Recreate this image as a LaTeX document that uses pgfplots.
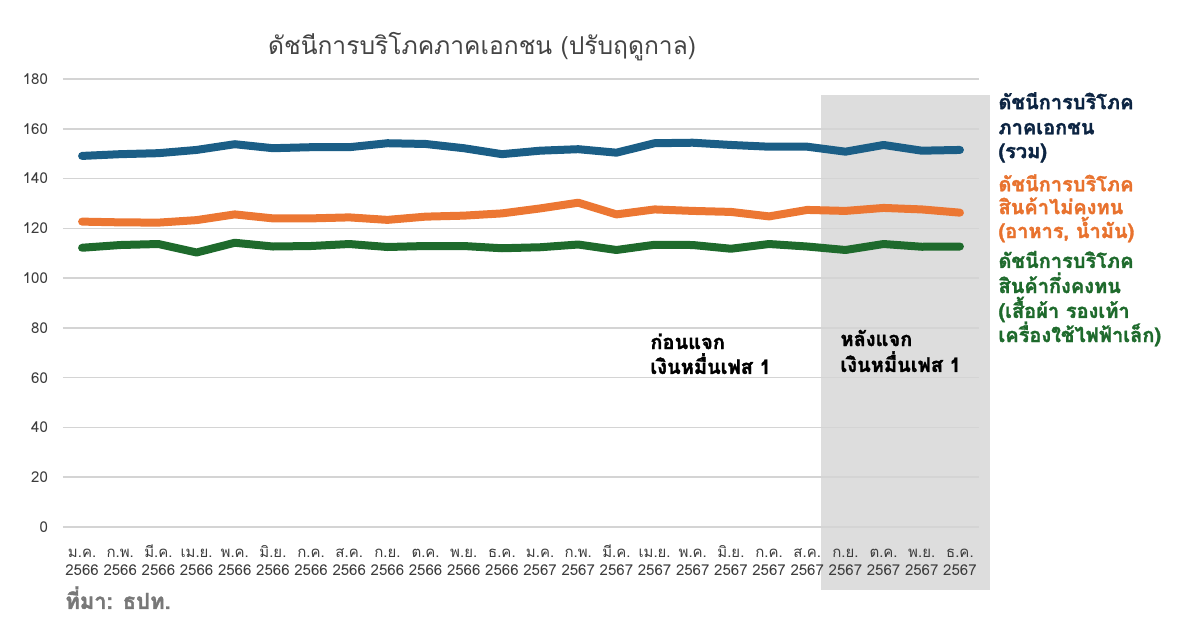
\documentclass[border=0pt]{standalone}
\usepackage{fontspec}
\setmainfont[Script=Thai, BoldFeatures={FakeBold=1.6}]{Loma}
\usepackage{pgfplots}
\pgfplotsset{compat=1.18}
\definecolor{blueline}{RGB}{27,94,134}
\definecolor{orangeline}{RGB}{236,119,51}
\definecolor{greenline}{RGB}{30,106,44}
\definecolor{navytext}{RGB}{12,36,66}
\definecolor{orangetext}{RGB}{232,114,46}
\definecolor{greentext}{RGB}{30,106,44}
\definecolor{gridgray}{RGB}{212,212,212}
\definecolor{shadegray}{RGB}{221,221,221}
\definecolor{ticktext}{RGB}{60,60,60}
\definecolor{titletext}{RGB}{68,68,68}
\definecolor{srctext}{RGB}{120,120,120}
\newcommand\tl[2]{\rule{0pt}{9pt}#1\\#2}
\begin{document}
\begin{tikzpicture}
\begin{axis}[
  at={(0,0)}, anchor=south west,
  scale only axis, width=458pt, height=224pt,
  xmin=-0.5, xmax=23.5, ymin=0, ymax=180,
  clip=false, set layers,
  axis line style={draw=none},
  major tick length=0pt,
  ytick={0,20,...,180},
  ymajorgrids, grid style={draw=gridgray, line width=0.8pt},
  xtick={0,...,23},
  xticklabels={{\tl{ม.ค.}{2566}},{\tl{ก.พ.}{2566}},{\tl{มี.ค.}{2566}},{\tl{เม.ย.}{2566}},{\tl{พ.ค.}{2566}},{\tl{มิ.ย.}{2566}},{\tl{ก.ค.}{2566}},{\tl{ส.ค.}{2566}},{\tl{ก.ย.}{2566}},{\tl{ต.ค.}{2566}},{\tl{พ.ย.}{2566}},{\tl{ธ.ค.}{2566}},{\tl{ม.ค.}{2567}},{\tl{ก.พ.}{2567}},{\tl{มี.ค.}{2567}},{\tl{เม.ย.}{2567}},{\tl{พ.ค.}{2567}},{\tl{มิ.ย.}{2567}},{\tl{ก.ค.}{2567}},{\tl{ส.ค.}{2567}},{\tl{ก.ย.}{2567}},{\tl{ต.ค.}{2567}},{\tl{พ.ย.}{2567}},{\tl{ธ.ค.}{2567}}},
  xticklabel style={align=center, font=\fontsize{7.5}{9.3}\selectfont, text=ticktext, anchor=north, yshift=-2.6pt},
  yticklabel style={font=\fontsize{7.5}{9}\selectfont, text=ticktext, anchor=east, xshift=-4pt},
  /pgf/number format/assume math mode=true,
  every axis plot/.append style={line width=4pt, line join=round, line cap=round, mark=none},
]
\begin{pgfonlayer}{axis background}
\fill[shadegray] (axis cs:19.35,-25.3) rectangle (axis cs:23.79,173.6);
\end{pgfonlayer}
\addplot[blueline] coordinates {(0,149.1)(1,149.8)(2,150.2)(3,151.5)(4,153.8)(5,152.2)(6,152.6)(7,152.6)(8,154.2)(9,153.9)(10,152.2)(11,149.8)(12,151.2)(13,151.8)(14,150.4)(15,154.2)(16,154.4)(17,153.5)(18,152.8)(19,152.8)(20,150.8)(21,153.5)(22,151.2)(23,151.5)};
\addplot[orangeline] coordinates {(0,122.7)(1,122.4)(2,122.3)(3,123.3)(4,125.6)(5,124.0)(6,124.0)(7,124.4)(8,123.4)(9,124.7)(10,125.1)(11,126.0)(12,128.0)(13,130.3)(14,125.6)(15,127.6)(16,127.0)(17,126.6)(18,124.8)(19,127.4)(20,127.0)(21,128.2)(22,127.6)(23,126.3)};
\addplot[greenline] coordinates {(0,112.2)(1,113.3)(2,113.7)(3,110.3)(4,114.2)(5,112.7)(6,112.9)(7,113.7)(8,112.5)(9,112.9)(10,112.9)(11,112.0)(12,112.4)(13,113.5)(14,111.3)(15,113.4)(16,113.3)(17,111.8)(18,113.7)(19,112.7)(20,111.3)(21,113.7)(22,112.6)(23,112.7)};
% title
\node[anchor=base, font=\fontsize{12.3}{14}\selectfont, text=titletext] at (axis cs:10.48,190) {ดัชนีการบริโภคภาคเอกชน (ปรับฤดูกาล)};
% right labels
\begin{scope}[every node/.style={anchor=base west, inner sep=0pt, font=\bfseries\fontsize{10}{12}\selectfont}]
\node[text=navytext] at (axis cs:24.0,167.9) {ดัชนีการบริโภค};
\node[text=navytext] at (axis cs:24.0,157.8) {ภาคเอกชน};
\node[text=navytext] at (axis cs:24.0,148.2) {(รวม)};
\node[text=orangetext] at (axis cs:24.0,134.9) {ดัชนีการบริโภค};
\node[text=orangetext] at (axis cs:24.0,125.7) {สินค้าไม่คงทน};
\node[text=orangetext] at (axis cs:24.0,116.1) {(อาหาร, น้ำมัน)};
\node[text=greentext] at (axis cs:24.0,104.1) {ดัชนีการบริโภค};
\node[text=greentext] at (axis cs:24.0,94.0) {สินค้ากึ่งคงทน};
\node[text=greentext] at (axis cs:24.0,84.0) {(เสื้อผ้า รองเท้า};
\node[text=greentext] at (axis cs:24.0,74.3) {เครื่องใช้ไฟฟ้าเล็ก)};
\node[text=black] at (axis cs:14.88,71.5) {ก่อนแจก};
\node[text=black] at (axis cs:14.88,61.5) {เงินหมื่นเฟส 1};
\node[text=black] at (axis cs:19.86,72.7) {หลังแจก};
\node[text=black] at (axis cs:19.86,62.3) {เงินหมื่นเฟส 1};
\node[text=srctext, font=\bfseries\fontsize{11}{13}\selectfont] at (axis cs:-0.45,-32.9) {ที่มา: ธปท.};
\end{scope}
\end{axis}
\pgfresetboundingbox
\path[use as bounding box] (-31.5pt,-53.5pt) rectangle (568.5pt,263.5pt);
\end{tikzpicture}
\end{document}
